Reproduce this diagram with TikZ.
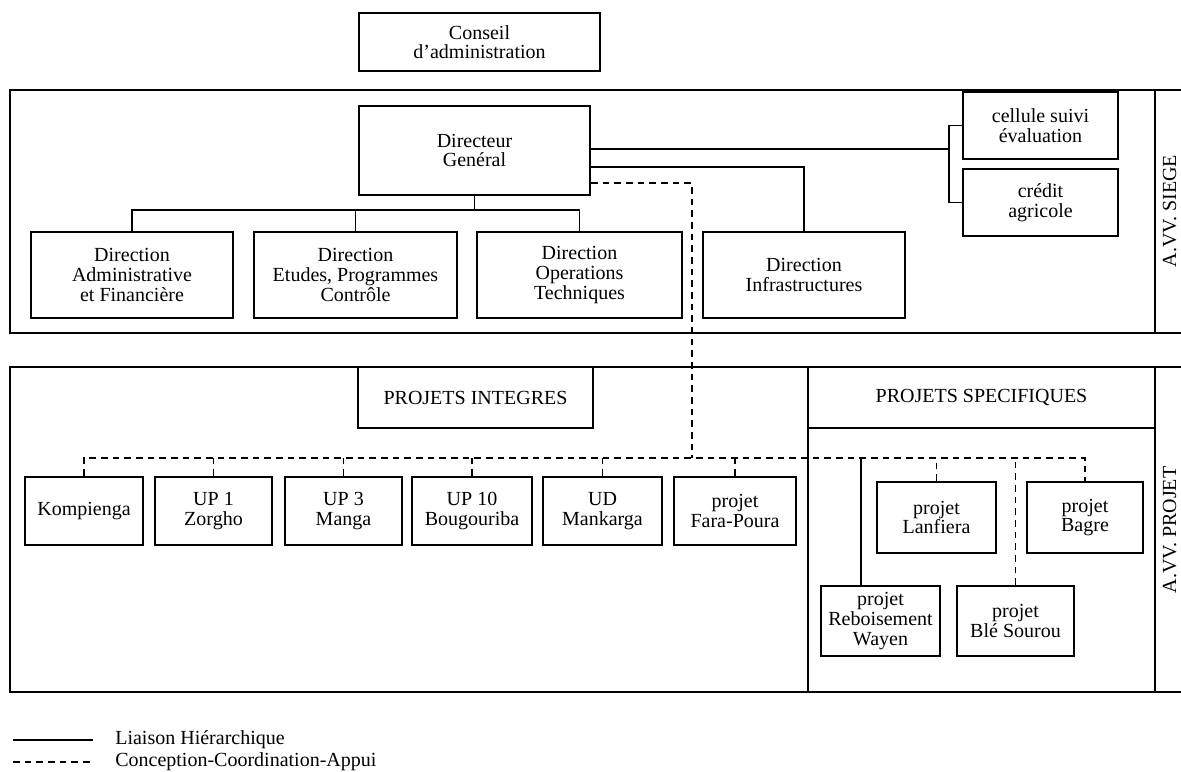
\documentclass[tikz,border=0pt]{standalone}
\usepackage{fontspec}
\setmainfont{Liberation Serif}
\usetikzlibrary{calc}

\tikzset{
  box/.style={draw, line width=1.2pt, align=center, inner sep=0pt,
    font=\fontsize{12}{11.8}\selectfont},
  link/.style={line width=1.1pt},
  coord/.style={line width=1.1pt, dash pattern=on 4pt off 3pt},
  frame/.style={line width=1.2pt},
  sidelabel/.style={rotate=90, anchor=base, inner sep=0pt,
    font=\fontsize{12}{12}\selectfont},
  legtext/.style={anchor=west, inner sep=0pt, font=\fontsize{12}{11.8}\selectfont}
}

\begin{document}
\begin{tikzpicture}[x=0.6pt,y=-0.6pt]
\path[use as bounding box,fill=white] (0,0) rectangle (1181,772);
\clip (0,0) rectangle (1181,772);

% cadres
\draw[frame] (10,90) rectangle (1200,333);
\draw[frame] (1155,90) -- (1155,333);
\draw[frame] (10,367) rectangle (1200,692);
\draw[frame] (808,367) -- (808,692);
\draw[frame] (1155,367) -- (1155,692);

\node[sidelabel] (siege) at (1176,211) {A.VV. SIEGE};
\node[sidelabel] (projet) at (1176,530) {A.VV. PROJET};

% siege
\node[box, minimum width=144.6pt, minimum height=34.8pt] (conseil) at (479.5,42) {Conseil\\d'administration};
\node[box, minimum width=138.6pt, minimum height=53.4pt] (dg) at (474.5,150.5) {Directeur\\Genéral};

\node[box, minimum width=121.2pt, minimum height=51.6pt] (admin) at (132,275) {Direction\\Administrative\\et Financière};
\node[box, minimum width=121.8pt, minimum height=51.6pt] (etudes) at (355.5,275) {Direction\\Etudes, Programmes\\Contrôle};
\node[box, minimum width=123pt, minimum height=51.6pt] (operations) at (579.5,275) {Direction\\Operations\\Techniques};
\node[box, minimum width=121.2pt, minimum height=51.6pt] (infra) at (804,275) {Direction\\Infrastructures};

\node[box, minimum width=93pt, minimum height=40.2pt] (cellule) at (1040.5,125.5) {cellule suivi\\évaluation};
\node[box, minimum width=93pt, minimum height=40.2pt] (credit) at (1040.5,202.5) {crédit\\agricole};

% projets
\node[box, minimum width=141pt, minimum height=36.6pt] (integres) at (475.5,397.5) {PROJETS INTEGRES};
\node[box, minimum width=208.2pt, minimum height=36.6pt] (specifiques) at (981.5,397.5) {PROJETS SPECIFIQUES};

\node[box, minimum width=70.8pt, minimum height=40.8pt] (kompienga) at (84,511) {Kompienga};
\node[box, minimum width=70.2pt, minimum height=40.8pt] (zorgho) at (213.5,511) {UP 1\\Zorgho};
\node[box, minimum width=70.2pt, minimum height=40.8pt] (manga) at (343.5,511) {UP 3\\Manga};
\node[box, minimum width=72pt, minimum height=40.8pt] (bougouriba) at (472,511) {UP 10\\Bougouriba};
\node[box, minimum width=71.4pt, minimum height=40.8pt] (mankarga) at (602.5,511) {UD\\Mankarga};
\node[box, minimum width=73.2pt, minimum height=40.8pt] (farapoura) at (735,511) {projet\\Fara-Poura};

\node[box, minimum width=71.4pt, minimum height=42.6pt] (lanfiera) at (936.5,517.5) {projet\\Lanfiera};
\node[box, minimum width=69.6pt, minimum height=42.6pt] (bagre) at (1085,517.5) {projet\\Bagre};
\node[box, minimum width=71.4pt, minimum height=42pt] (reboisement) at (880.5,621) {projet\\Reboisement\\Wayen};
\node[box, minimum width=70.2pt, minimum height=42pt] (blesourou) at (1015.5,621) {projet\\Blé Sourou};

% liaisons hierarchiques
\coordinate (busdir) at (0,210);
\draw[link] (dg.south) -- (dg.south |- busdir);
\draw[link] (admin.north) -- (admin.north |- busdir) -| (operations.north);
\draw[link] (etudes.north) -- (etudes.north |- busdir);
\draw[link] ($(dg.east)+(0,16.5)$) -| (infra.north);

\coordinate (brk) at (949,149);
\draw[link] (dg.east |- brk) -- (brk);
\draw[link] (cellule.west) -- (cellule.west -| brk) -- (credit.west -| brk) -- (credit.west);

\coordinate (projbus) at (0,458);
\coordinate (rbtop) at ($(reboisement.north)+(-19.5,0)$);
\draw[link] (rbtop) -- (rbtop |- projbus);

% conception - coordination - appui
\coordinate (dsh) at (692,183);
\draw[coord] (dg.east |- dsh) -- (dsh) -- (dsh |- projbus);
\draw[coord] (kompienga.north) -- (kompienga.north |- projbus) -| (bagre.north);
\foreach \p in {zorgho,manga,bougouriba,mankarga,farapoura,lanfiera,blesourou}
  \draw[coord] (\p.north) -- (\p.north |- projbus);

% legende
\coordinate (lga) at (13,740);
\coordinate (lgb) at (93,740);
\coordinate (lgc) at (13,762);
\coordinate (lgd) at (93,762);
\draw[link] (lga) -- (lgb);
\draw[coord] (lgc) -- (lgd);
\node[legtext] (lghier) at (115,740) {Liaison Hiérarchique};
\node[legtext] (lgcoord) at (115,762) {Conception-Coordination-Appui};
\end{tikzpicture}
\end{document}
